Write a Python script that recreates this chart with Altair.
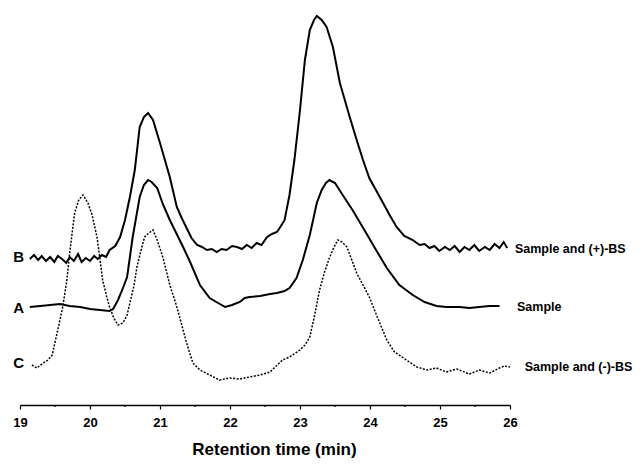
import altair as alt
import pandas as pd

# Trace B: Sample and (+)-BS
time_B = [19.14, 19.20, 19.26, 19.31, 19.37, 19.43, 19.49, 19.54, 19.60, 19.66, 19.71, 19.77, 19.83, 19.88,
          19.94, 20.00, 20.06, 20.11, 20.17, 20.23, 20.28, 20.36, 20.43, 20.50, 20.57, 20.64, 20.71, 20.77,
          20.83, 20.90, 21.00, 21.07, 21.14, 21.24, 21.31, 21.38, 21.45, 21.53, 21.60, 21.67, 21.74, 21.81,
          21.88, 21.95, 22.03, 22.10, 22.17, 22.24, 22.31, 22.38, 22.45, 22.53, 22.60, 22.67, 22.71, 22.78,
          22.85, 22.92, 23.00, 23.07, 23.14, 23.20, 23.24, 23.31, 23.38, 23.47, 23.57, 23.71, 23.81, 23.90,
          23.99, 24.14, 24.28, 24.38, 24.49, 24.61, 24.71, 24.78, 24.85, 24.92, 24.99, 25.07, 25.14, 25.21,
          25.28, 25.35, 25.42, 25.49, 25.56, 25.64, 25.71, 25.78, 25.85, 25.91, 25.96]
signal_B = [146, 150, 145, 149, 144, 148, 143, 149, 146, 142, 148, 144, 151, 143,
            147, 144, 149, 146, 150, 148, 155, 159, 168, 185, 208, 235, 278, 288,
            292, 285, 262, 245, 228, 198, 187, 177, 167, 160, 158, 155, 156, 153,
            156, 155, 159, 158, 156, 160, 157, 162, 160, 168, 171, 173, 177, 185,
            210, 245, 295, 345, 375, 385, 389, 385, 378, 358, 322, 288, 265, 245,
            227, 208, 190, 178, 169, 165, 160, 161, 157, 159, 154, 158, 155, 159,
            153, 158, 155, 160, 154, 158, 155, 161, 157, 163, 157]

# Trace A: Sample
time_A = [19.14, 19.29, 19.43, 19.57, 19.71, 19.86, 20.00, 20.14, 20.28, 20.33, 20.40, 20.46, 20.53, 20.61,
          20.71, 20.77, 20.83, 20.88, 20.96, 21.04, 21.14, 21.33, 21.43, 21.57, 21.71, 21.83, 21.93, 22.03,
          22.14, 22.21, 22.28, 22.43, 22.57, 22.67, 22.78, 22.85, 22.95, 23.04, 23.14, 23.24, 23.31, 23.37,
          23.42, 23.50, 23.61, 23.75, 23.92, 24.07, 24.24, 24.42, 24.61, 24.78, 24.95, 25.09, 25.28, 25.42,
          25.56, 25.71, 25.85]
signal_A = [98, 99, 100, 101, 99, 98, 96, 95, 94, 96, 105, 115, 128, 168,
            208, 220, 225, 223, 217, 201, 185, 158, 143, 120, 107, 102, 98, 100,
            103, 107, 108, 109, 111, 112, 114, 117, 127, 145, 170, 202, 215, 222,
            225, 222, 210, 195, 175, 157, 137, 120, 110, 103, 99, 98, 98, 97,
            98, 99, 99]

# Trace C: Sample and (-)-BS
time_C = [19.17, 19.24, 19.33, 19.40, 19.46, 19.53, 19.57, 19.61, 19.67, 19.71, 19.78, 19.84, 19.90, 19.97,
          20.03, 20.10, 20.14, 20.18, 20.24, 20.28, 20.34, 20.40, 20.47, 20.53, 20.57, 20.63, 20.67, 20.73,
          20.78, 20.84, 20.90, 20.96, 21.04, 21.14, 21.21, 21.28, 21.38, 21.47, 21.57, 21.71, 21.85, 22.00,
          22.14, 22.28, 22.43, 22.57, 22.75, 22.85, 23.00, 23.07, 23.14, 23.21, 23.28, 23.35, 23.42, 23.48,
          23.54, 23.60, 23.67, 23.74, 23.81, 23.90, 23.99, 24.11, 24.24, 24.35, 24.52, 24.67, 24.81, 24.95,
          25.09, 25.24, 25.42, 25.56, 25.71, 25.85, 25.92, 26.00]
signal_C = [40, 37, 42, 45, 50, 72, 85, 98, 125, 152, 192, 205, 210, 202,
            190, 168, 147, 125, 108, 98, 87, 80, 82, 90, 102, 120, 138, 155,
            168, 172, 175, 165, 148, 120, 105, 88, 62, 42, 35, 30, 25, 27,
            26, 28, 30, 33, 45, 48, 55, 60, 68, 90, 115, 133, 147, 157,
            165, 163, 158, 145, 132, 120, 108, 87, 65, 53, 45, 38, 35, 37,
            33, 36, 31, 35, 32, 37, 39, 38]

# Letter labels at the left of each trace
letters = ["B", "A", "C"]
letter_time = [19.06, 19.06, 19.06]
letter_signal = [148, 97, 42]

# Description labels at the right of each trace
descriptions = ["Sample and (+)-BS", "Sample", "Sample and (-)-BS"]
desc_time = [26.07, 26.10, 26.21]
desc_signal = [156, 98, 38]

major_ticks = [19, 20, 21, 22, 23, 24, 25, 26]
minor_ticks = [19.5, 20.5, 21.5, 22.5, 23.5, 24.5, 25.5]

PLOT_W = 490
PLOT_H = 397
FONT = "Liberation Sans"

df_B = pd.DataFrame({"t": time_B, "s": signal_B})
df_A = pd.DataFrame({"t": time_A, "s": signal_A})
df_C = pd.DataFrame({"t": time_C, "s": signal_C})
df_let = pd.DataFrame({"t": letter_time, "s": letter_signal, "label": letters})
df_desc = pd.DataFrame({"t": desc_time, "s": desc_signal, "label": descriptions})
df_minor = pd.DataFrame({"t": minor_ticks})

x_scale = alt.Scale(domain=[19, 26], nice=False, zero=False)
y_scale = alt.Scale(domain=[0, PLOT_H], nice=False, zero=False)

x_axis = alt.Axis(
    values=major_ticks, format="d", grid=False,
    domainColor="black", domainWidth=1.5,
    tickColor="black", tickWidth=1.2, tickSize=4,
    labelFont=FONT, labelFontSize=13, labelFontWeight="bold", labelColor="black",
    labelPadding=7, labelFlush=False,
    title="Retention time (min)", titleFont=FONT, titleFontSize=17,
    titleFontWeight="bold", titleColor="black",
    titleX=254, titleY=49, titleAlign="center", titleBaseline="alphabetic",
)

X = alt.X("t:Q", scale=x_scale, axis=x_axis)
Y = alt.Y("s:Q", scale=y_scale, axis=None)

line_B = alt.Chart(df_B).mark_line(color="black", strokeWidth=2).encode(x=X, y=Y)
line_A = alt.Chart(df_A).mark_line(color="black", strokeWidth=2).encode(x=X, y=Y)
line_C = alt.Chart(df_C).mark_line(color="black", strokeWidth=1.5, strokeDash=[2, 1.5]).encode(x=X, y=Y)

letter_text = alt.Chart(df_let).mark_text(
    align="right", baseline="middle", font=FONT, fontSize=15, fontWeight="bold", color="black"
).encode(x=X, y=Y, text="label:N")

desc_text = alt.Chart(df_desc).mark_text(
    align="left", baseline="middle", font=FONT, fontSize=12.5, fontWeight="bold", color="black"
).encode(x=X, y=Y, text="label:N")

minor_rules = alt.Chart(df_minor).mark_rule(color="black", strokeWidth=1.2).encode(
    x=X, y=alt.value(PLOT_H), y2=alt.value(PLOT_H + 2)
)

chart = alt.layer(
    minor_rules, line_C, line_A, line_B, letter_text, desc_text
).properties(
    width=PLOT_W, height=PLOT_H,
    autosize=alt.AutoSizeParams(type="none"),
    padding={"left": 12, "top": 0, "right": 124, "bottom": 53},
    background="white",
).configure_view(stroke=None)

chart.save("out.html", embed_options={"renderer": "svg", "actions": False})
